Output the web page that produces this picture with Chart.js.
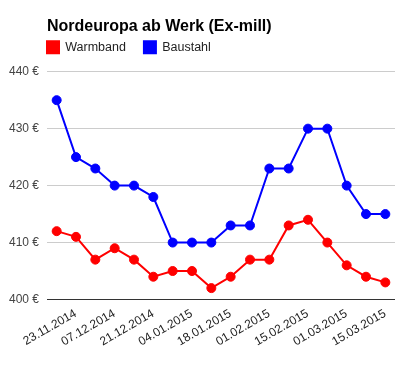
<!DOCTYPE html>
<html lang="de">
<head>
<meta charset="UTF-8">
<title>Nordeuropa ab Werk (Ex-mill)</title>
<style>
    html, body { margin: 0; padding: 0; background: #fff; }
    #wrap { width: 408px; height: 371px; }
</style>
</head>
<body>
<div id="wrap"><canvas id="chart"></canvas></div>
<script src="https://cdn.jsdelivr.net/npm/chart.js"></script>
<script>
    const dates = ["23.11.2014", "30.11.2014", "07.12.2014", "14.12.2014", "21.12.2014", "28.12.2014",
        "04.01.2015", "11.01.2015", "18.01.2015", "25.01.2015", "01.02.2015", "08.02.2015",
        "15.02.2015", "22.02.2015", "01.03.2015", "08.03.2015", "15.03.2015", "22.03.2015"];
    const warmband = [412, 411, 407, 409, 407, 404, 405, 405, 402, 404, 407, 407, 413, 414, 410, 406, 404, 403];
    const baustahl = [435, 425, 423, 420, 420, 418, 410, 410, 410, 413, 413, 423, 423, 430, 430, 420, 415, 415];
    const yMin = 400, yMax = 440, yStep = 10;

    const FONT = "'Liberation Sans', Arial, sans-serif";

    // legend sits at the plot's left edge, not at padding offset
    const legendShift = {
        id: 'legendShift',
        afterLayout(chart) {
            const lg = chart.legend;
            lg.left -= 18;
            lg.top = 23;
        }
    };

    function series(label, data, color) {
        return {
            label: label,
            data: data,
            borderColor: color,
            backgroundColor: color,
            borderWidth: 2,
            pointRadius: 4.5,
            pointBorderWidth: 1,
            pointBackgroundColor: color,
            pointBorderColor: color,
            tension: 0
        };
    }

    new Chart(document.getElementById("chart"), {
        type: 'line',
        data: {
            labels: dates,
            datasets: [series("Warmband", warmband, "#ff0000"), series("Baustahl", baustahl, "#0000ff")]
        },
        options: {
            responsive: true,
            maintainAspectRatio: false,
            animation: false,
            layout: { padding: { left: 8, right: 13, top: 0, bottom: 15 } },
            plugins: {
                title: {
                    display: true,
                    text: "Nordeuropa ab Werk (Ex-mill)",
                    align: 'start',
                    fullSize: false,
                    color: '#000',
                    font: { family: FONT, size: 16, weight: 'bold' },
                    padding: { top: 17, bottom: -5 }
                },
                legend: {
                    display: true,
                    align: 'start',
                    fullSize: false,
                    labels: {
                        boxWidth: 12,
                        boxHeight: 12,
                        padding: 18,
                        color: '#222',
                        font: { family: FONT, size: 12.5 }
                    }
                },
                tooltip: { enabled: false }
            },
            scales: {
                x: {
                    offset: true,
                    grid: { display: false, drawTicks: false },
                    border: { display: false },
                    afterFit: (s) => { s.paddingLeft = 0; },
                    ticks: {
                        autoSkip: false,
                        minRotation: 30,
                        maxRotation: 30,
                        labelOffset: 19,
                        padding: 7,
                        color: '#222',
                        font: { family: FONT, size: 12 },
                        callback: function (v, i) {
                            return i % 2 === 0 ? this.getLabelForValue(v) : '';
                        }
                    }
                },
                y: {
                    min: yMin,
                    max: yMax,
                    border: { display: false },
                    afterFit: (s) => { s.width = 39; },
                    grid: {
                        drawTicks: false,
                        color: (c) => c.tick && c.tick.value === yMin ? '#333' : '#ccc'
                    },
                    ticks: {
                        stepSize: yStep,
                        padding: 8,
                        color: '#444',
                        font: { family: FONT, size: 12 },
                        callback: (v) => v + ' €'
                    }
                }
            }
        },
        plugins: [legendShift]
    });
</script>
</body>
</html>
